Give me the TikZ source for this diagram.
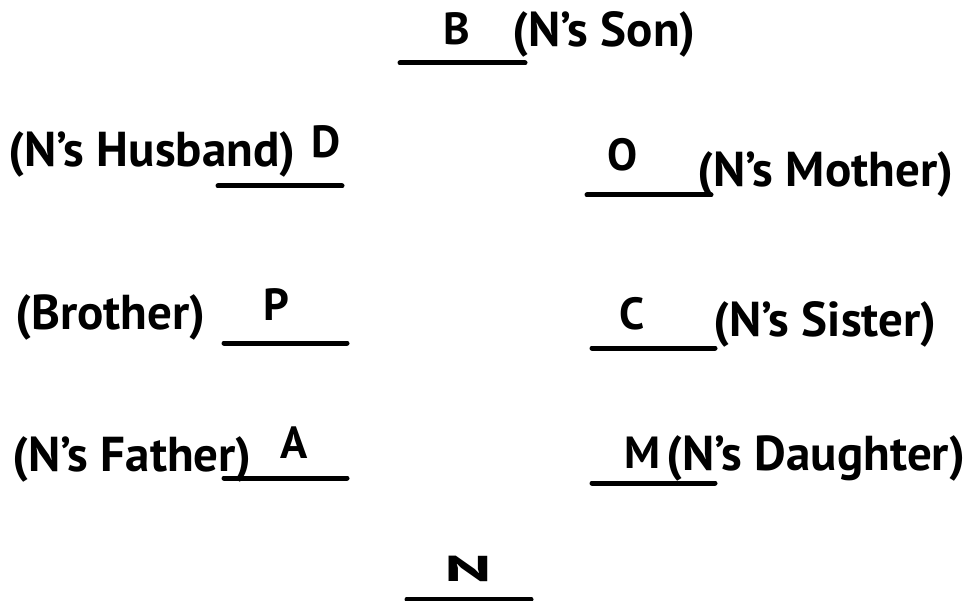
\documentclass[tikz,border=0pt]{standalone}
\usepackage{fontspec}
\setmainfont{PT Sans}
\begin{document}
\begin{tikzpicture}[x=1pt,y=-1pt,
  lbl/.style={anchor=base west,inner sep=0pt,font=\fontsize{49}{49}\selectfont\bfseries},
  ltr/.style={anchor=base,inner sep=0pt,font=\fontsize{45}{45}\selectfont\bfseries},
  uline/.style={line width=5pt,line cap=round}]
\useasboundingbox (0,0) rectangle (979,601);
% underlines
\draw[uline] (400,63) -- (525,63);
\draw[uline] (218,186) -- (342,186);
\draw[uline] (587,195) -- (711,195);
\draw[uline] (224,343) -- (347,343);
\draw[uline] (592,348) -- (715,348);
\draw[uline] (224,478) -- (347,478);
\draw[uline] (592,483) -- (715,483);
\draw[uline] (407,599) -- (531,599);
% letters
\node[ltr] (B) at (457,45) {B};
\node[ltr] (D) at (326,158) {D};
\node[ltr] (O) at (623,171) {O};
\node[ltr] (P) at (276,320) {P};
\node[ltr] (C) at (632,330) {C};
\node[ltr] (A) at (294,458) {A};
\node[ltr] (M) at (642,468) {M};
\node[ltr] (N) at (468,581) {\scalebox{1.6}[0.8]{N}};
% labels
\node[lbl] (lB) at (512,47) {(N’s Son)};
\node[lbl] (lD) at (8,167) {(N’s Husband)};
\node[lbl] (lO) at (697,187) {(N’s Mother)};
\node[lbl] (lP) at (15,330) {(Brother)};
\node[lbl] (lC) at (713,336) {(N’s Sister)};
\node[lbl] (lA) at (12,471) {(N’s Father)};
\node[lbl] (lM) at (666,470) {(N’s Daughter)};
\end{tikzpicture}
\end{document}
